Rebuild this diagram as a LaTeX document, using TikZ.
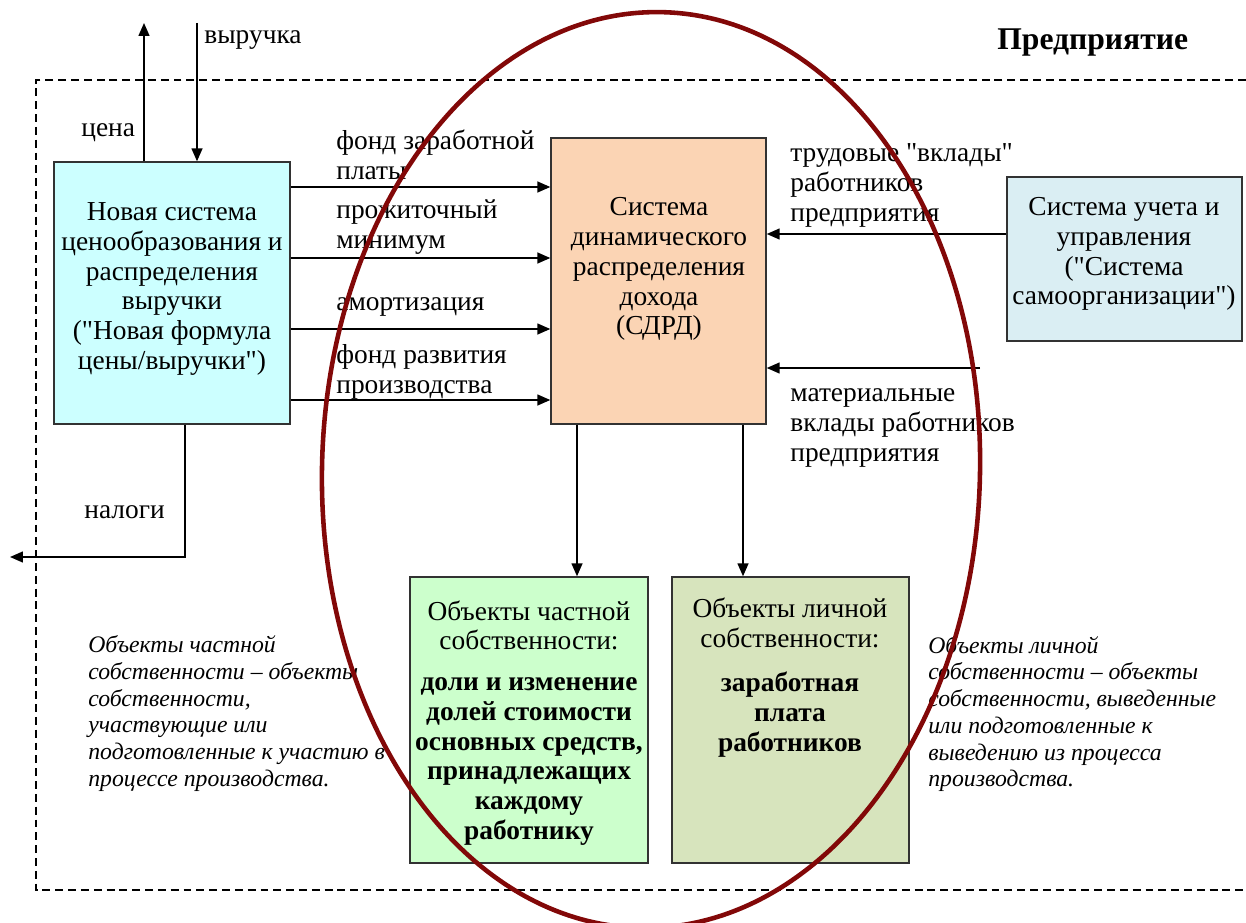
\documentclass[tikz,border=0pt]{standalone}
\usepackage{fontspec}
\setmainfont{Liberation Serif}
\usetikzlibrary{arrows.meta}
\definecolor{ellred}{RGB}{130,8,8}
\definecolor{cyanbox}{RGB}{204,255,255}
\definecolor{peachbox}{RGB}{251,212,180}
\definecolor{bluebox}{RGB}{218,238,243}
\definecolor{greenbox}{RGB}{204,255,204}
\definecolor{olivebox}{RGB}{215,228,189}
\definecolor{edge}{RGB}{50,50,50}
\font\dqfont="Liberation Serif" at 15.6pt
\newcommand\dq{{\dqfont"}}
\newcommand\fmain{\fontsize{15.6}{17}\selectfont}
\newcommand\fital{\fontsize{13.5}{15.2}\selectfont\itshape}
\tikzset{
  boxnode/.style={draw=edge, line width=0.85pt, inner sep=0pt},
  txt/.style={font=\fmain, inner sep=0pt, align=center},
  lbl/.style={font=\fmain, inner sep=0pt, align=left, anchor=west},
  itxt/.style={font=\fital, inner sep=0pt, align=left, anchor=west},
  arr/.style={line width=0.85pt, draw=black, -{Triangle[length=0.26cm,width=0.22cm]}},
  frame/.style={line width=0.8pt, dash pattern=on 4.5pt off 2.8pt},
  ring/.style={draw=ellred, line width=2.6pt}
}
\begin{document}
\begin{tikzpicture}[x=0.02cm,y=-0.02cm]
\useasboundingbox (0,0) rectangle (1246,922);
% frame
\draw[frame] (1246,80) -- (36,80) -- (36,890) -- (1246,890);
\node[font=\fontsize{18}{20}\selectfont\bfseries, inner sep=0pt, anchor=west] (title) at (997,43) {Предприятие};
% boxes
\node[boxnode, fill=cyanbox, minimum width=4.72cm, minimum height=5.24cm] (L) at (172,293) {};
\node[boxnode, fill=peachbox, minimum width=4.30cm, minimum height=5.72cm] (C) at (658.5,281) {};
\node[boxnode, fill=bluebox, minimum width=4.70cm, minimum height=3.28cm] (R) at (1124.5,259) {};
\node[boxnode, fill=greenbox, minimum width=4.76cm, minimum height=5.72cm] (G) at (529,720) {};
\node[boxnode, fill=olivebox, minimum width=4.74cm, minimum height=5.72cm] (O) at (790.5,720) {};
% box texts
\node[txt] (Ltxt) at (172,289) {Новая система\\ценообразования и\\распределения\\выручки\\(\dq Новая формула\\цены/выручки\dq)};
\node[txt] (Ctxt) at (659,269) {Система\\динамического\\распределения\\дохода\\(СДРД)};
\node[txt] (Rtxt) at (1124,254) {Система учета и\\управления\\(\dq Система\\самоорганизации\dq)};
\node[txt] (Gtxt) at (529,723) {Объекты частной\\собственности:\\[6pt]\textbf{доли и изменение}\\\textbf{долей стоимости}\\\textbf{основных средств,}\\\textbf{принадлежащих}\\\textbf{каждому}\\\textbf{работнику}};
\node[txt, anchor=north] (Otxt) at (790,598) {Объекты личной\\собственности:\\[8pt]\textbf{заработная}\\\textbf{плата}\\\textbf{работников}};
% labels
\node[lbl] (lvyr) at (204,40) {выручка};
\node[lbl] (lcena) at (81,133) {цена};
\node[lbl] (lnal) at (84,512) {налоги};
\node[lbl] (lfzp) at (336,155) {фонд заработной\\платы};
\node[lbl] (lpm) at (336,227) {прожиточный\\минимум};
\node[lbl] (lam) at (336,307) {амортизация};
\node[lbl] (lfrp) at (336,372) {фонд развития\\производства};
\node[lbl] (ltv) at (790,185.5) {трудовые \dq вклады\dq\\работников\\предприятия};
\node[lbl] (lmv) at (790,428) {материальные\\вклады работников\\предприятия};
\node[itxt] (ileft) at (88,713.5) {Объекты частной\\собственности – объекты\\собственности,\\участвующие или\\подготовленные к участию в\\процессе производства.};
\node[itxt] (iright) at (928,714) {Объекты личной\\собственности – объекты\\собственности, выведенные\\или подготовленные к\\выведению из процесса\\производства.};
% connectors
\coordinate (cenaTop) at (144,23);
\coordinate (vyrTop) at (197,23);
\coordinate (nalEnd) at (10,557);
\coordinate (matStart) at (980,368);
\draw[arr] (cenaTop |- L.north) -- (cenaTop);
\draw[arr] (vyrTop) -- (vyrTop |- L.north);
\draw[arr] (L.south -| 185,0) |- (nalEnd);
\foreach \yy in {187,258,329,400} {
  \draw[arr] (L.east |- 0,\yy) -- (C.west |- 0,\yy);
}
\draw[arr] (R.west |- 0,234) -- (C.east |- 0,234);
\draw[arr] (matStart) -- (C.east |- matStart);
\draw[arr] (C.south -| 577,0) -- (G.north -| 577,0);
\draw[arr] (C.south -| 743,0) -- (O.north -| 743,0);
% ellipse
\draw[ring] (651,470) ellipse [x radius=329, y radius=458, rotate=-1.5];
\end{tikzpicture}
\end{document}
